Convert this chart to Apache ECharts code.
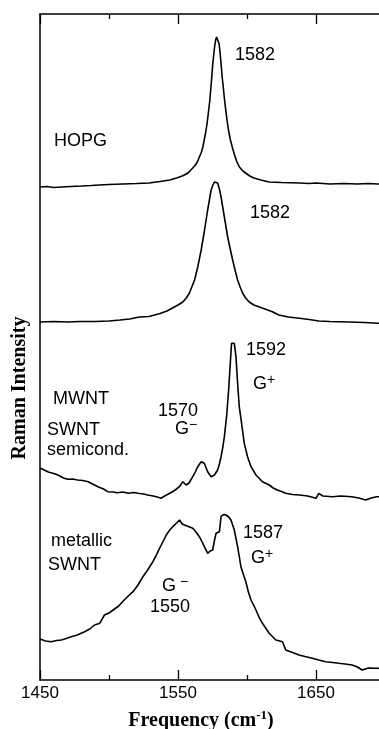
<!DOCTYPE html>
<html>
<head>
<meta charset="utf-8">
<script src="https://cdn.jsdelivr.net/npm/echarts@6/dist/echarts.min.js"></script>
<style>
  html, body { margin: 0; padding: 0; background: #fff; }
  #chart { width: 379px; height: 729px; }
</style>
</head>
<body>
<div id="chart"></div>
<script>
// Raman spectra, [frequency cm-1, intensity above own baseline]
const hopg = [[1450,0],[1455,0.5],[1460,-0.5],[1466,0],[1472,0.5],[1480,1],[1487,1.5],[1493,2],[1500,2.5],[1510,3],[1520,3.5],[1529,4],[1537,5.5],[1544,7],[1549,9],[1553,11],[1556,13],[1558,15],[1560,18],[1562,21],[1564,25],[1565.5,30],[1567,35],[1568,40],[1569,47],[1570,54],[1571,63],[1572,74],[1573,86],[1573.5,94],[1574.3,107],[1575,120],[1575.8,131],[1576.5,140],[1577.3,147],[1578,150],[1579,150],[1579.8,143],[1580.5,134],[1581.3,122],[1582,110],[1582.8,100],[1583.5,90],[1584.5,78],[1585.5,67],[1586.7,56],[1588,47],[1589.5,39],[1591,32],[1592.7,25],[1594.5,20],[1597,16],[1599,14],[1602,11],[1605,9],[1610,7],[1616,5],[1625,4.5],[1638,4],[1645,3.5],[1650,4],[1660,3],[1670,3.5],[1680,3],[1688,3.5],[1695,3],[1700,3]]

const mwnt = [[1450,0],[1460,0.5],[1470,0],[1479,0.5],[1490,0.5],[1500,1],[1508,2],[1515,3],[1522,5],[1529,5.5],[1537,8.5],[1542,11],[1546,14],[1550,17],[1553.5,20],[1556,24],[1558.3,29],[1560,35],[1562,42],[1564.3,55],[1566.8,72],[1569,90],[1571.5,112],[1573,124],[1574,132],[1575.3,137],[1576.4,140],[1577.6,140],[1578.7,139],[1580,133],[1581.2,125],[1582.4,115],[1583.6,105],[1586,85],[1588,72],[1589.6,62],[1591.5,51],[1593.2,42],[1595,35],[1596.8,29],[1599,24],[1601.6,20],[1605,17],[1609,15],[1614,12.5],[1618.4,10.3],[1623,7],[1630,5],[1638,3.7],[1645,2.5],[1652,1],[1660,0.5],[1674,0],[1685,-0.5],[1695,-1.3],[1700,-1.3]]

const semicond = [[1450,29],[1453,27],[1456,25],[1460,23.5],[1463,22],[1467,19],[1470,17.7],[1474,18],[1477,17],[1481,16.5],[1485,15.3],[1488,13],[1492,10.3],[1496,8],[1499,5.3],[1503,5],[1506,4.3],[1510,5],[1514,3.7],[1518,4.5],[1521,3.7],[1525,3],[1528,2],[1532,1],[1535,0],[1537.6,-1.3],[1541,1.5],[1545,4.5],[1548,7],[1551,10.3],[1553.5,15.3],[1555.9,12],[1558,14],[1560.7,20.3],[1562.5,25],[1564.3,30.3],[1566.8,35.3],[1569,33.7],[1571.5,25.3],[1574,20.3],[1576.4,22],[1578.7,27],[1580,33],[1581.2,40.3],[1582.5,50],[1583.6,60.3],[1585.2,80.3],[1586.7,107],[1587.9,133.7],[1588.8,153.7],[1590.8,153.7],[1592,140.3],[1593.2,113.7],[1594.4,90.3],[1596.4,70.3],[1598,53.7],[1600.4,40.3],[1602.9,30.3],[1606.5,22],[1611.2,15.3],[1616.1,12],[1619,9],[1622,7],[1625,5.5],[1628,3.7],[1633,2.5],[1638,2],[1644,1],[1650,-1.3],[1652,3.7],[1655,1],[1662,0.3],[1668,1],[1676,0.3],[1681,-1],[1686,-3],[1690,-1],[1694,0.3],[1700,0.3]]

const metallic = [[1450,31],[1454,29],[1458,28.3],[1462,29.5],[1465.4,30],[1469,31.5],[1472.6,33.3],[1477,35],[1482.3,38.3],[1486,41],[1489.5,45],[1493.3,46.7],[1496.7,55],[1500,57],[1503,60],[1507,64],[1511,70],[1514,74],[1517.4,78.3],[1521,85],[1524.6,93.3],[1528,100],[1531.8,108.3],[1534,114],[1536.6,121.7],[1539,128],[1541.5,135],[1544,140],[1546.2,143.3],[1549,147],[1551.1,150],[1553,146],[1554.7,145],[1557.5,143.5],[1560.7,141.7],[1563,138],[1565.5,133.3],[1567.5,128],[1569.1,123.3],[1571.5,116.7],[1573.3,119],[1575.1,120],[1576.5,130],[1577.6,136.7],[1579,137],[1580,138.3],[1581.2,153.3],[1583,155.5],[1584.8,155],[1586.7,153],[1588.4,150],[1590.8,140],[1593.2,123.3],[1595.6,103.3],[1597.5,95],[1599.2,88],[1601,78],[1602.9,70],[1606.5,60],[1609,52],[1611.2,46.7],[1614,41],[1616.1,36.7],[1620.9,30],[1625.7,28.3],[1628.1,20],[1632,18],[1637.7,15],[1642,13.5],[1647.3,11.7],[1652,10],[1657,8.3],[1662,7.5],[1666.6,6.7],[1671,6],[1676.2,5],[1680,3],[1683.4,0],[1688,2],[1694.3,1.7],[1700,1.5]]

const spectra = [hopg, mwnt, semicond, metallic]
const offsets = [493, 358, 183, 10]
const xTicks = [1450, 1550, 1650]

const chart = echarts.init(document.getElementById('chart'))

const sans = 'Liberation Sans, Arial, sans-serif'
const serif = 'Liberation Serif, Times New Roman, serif'

function label(x, y, text, size) {
  return {
    type: 'text', x: x, y: y,
    style: {
      text: text, fill: '#000',
      font: (size || 18) + 'px ' + sans,
      verticalAlign: 'middle'
    }
  }
}

function gLabel(x, y, sign) {
  return {
    type: 'text', x: x, y: y,
    style: {
      text: '{g|G}{s|' + sign + '}',
      fill: '#000',
      verticalAlign: 'middle',
      rich: {
        g: { fontSize: 18, fontFamily: sans, lineHeight: 20, verticalAlign: 'bottom' },
        s: { fontSize: 14, fontFamily: sans, lineHeight: 20, verticalAlign: 'top' }
      }
    }
  }
}

const axisCommon = {
  type: 'value',
  min: 1450,
  max: 1700,
  interval: 100,
  axisLine: { show: true, lineStyle: { color: '#000', width: 1.5 } },
  axisTick: { show: true, inside: true, length: 10, lineStyle: { color: '#000', width: 1.3 } },
  minorTick: { show: true, splitNumber: 2, length: 5, lineStyle: { color: '#000', width: 1.3 } },
  splitLine: { show: false },
  minorSplitLine: { show: false }
}

const option = {
  animation: false,
  // plot runs a little past the right edge of the picture (1700 is cut off)
  grid: { left: 40, width: 345, top: 14, bottom: 49, outerBoundsMode: 'none' },
  xAxis: [
    Object.assign({}, axisCommon, {
      position: 'bottom',
      axisLabel: {
        color: '#000', fontSize: 17, fontFamily: sans, margin: 5,
        formatter: v => xTicks.indexOf(v) >= 0 ? String(v) : ''
      }
    }),
    Object.assign({}, axisCommon, {
      position: 'top',
      axisLabel: { show: false }
    })
  ],
  yAxis: {
    type: 'value',
    min: 0,
    max: 666,
    axisLine: { show: true, lineStyle: { color: '#000', width: 1.5 } },
    axisTick: { show: false },
    axisLabel: { show: false },
    splitLine: { show: false }
  },
  series: spectra.map((s, i) => ({
    type: 'line',
    data: s.map(p => [p[0], p[1] + offsets[i]]),
    showSymbol: false,
    lineStyle: { color: '#000', width: 1.6 }
  })),
  graphic: [
    label(235, 55, '1582'),
    label(54, 141, 'HOPG'),
    label(250, 213, '1582'),
    label(53, 399, 'MWNT'),
    label(246, 350, '1592'),
    gLabel(253, 383, '+'),
    label(158, 411, '1570'),
    gLabel(175, 428, '\u2212'),
    label(47, 430, 'SWNT'),
    label(47, 450, 'semicond.'),
    label(51, 541, 'metallic'),
    label(48, 565, 'SWNT'),
    label(243, 533, '1587'),
    gLabel(251, 557, '+'),
    gLabel(162, 585, ' \u2212'),
    label(150, 607, '1550'),
    {
      type: 'text', x: 201, y: 720,
      style: {
        text: '{t|Frequency (cm}{s|-1}{t|)}',
        fill: '#000', align: 'center', verticalAlign: 'middle',
        rich: {
          t: { fontSize: 20, fontWeight: 'bold', fontFamily: serif, lineHeight: 22, verticalAlign: 'bottom' },
          s: { fontSize: 13, fontWeight: 'bold', fontFamily: serif, lineHeight: 22, verticalAlign: 'top' }
        }
      }
    },
    {
      type: 'text', x: 20, y: 388, rotation: Math.PI / 2,
      style: {
        text: 'Raman Intensity', fill: '#000',
        font: 'bold 20px ' + serif,
        align: 'center', verticalAlign: 'middle'
      }
    }
  ]
}

chart.setOption(option)
</script>
</body>
</html>
